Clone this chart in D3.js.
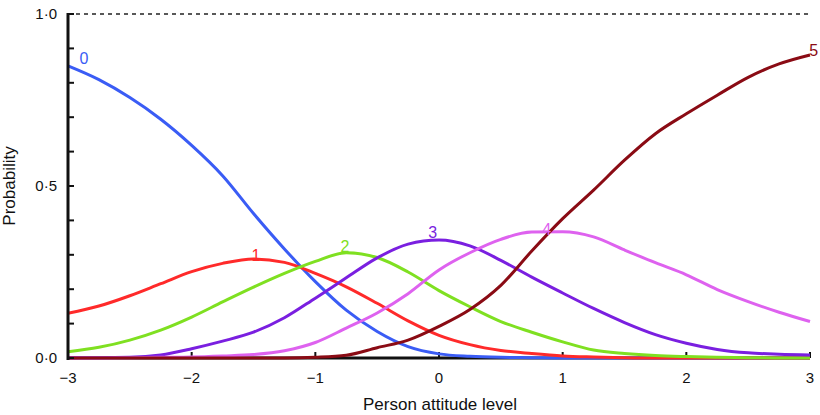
<!DOCTYPE html>
<html>
<head>
<meta charset="utf-8">
<script src="https://cdn.jsdelivr.net/npm/d3@7/dist/d3.min.js"></script>
<style>
  html, body { margin: 0; padding: 0; background: #fff; }
  svg { display: block; }
  text { font-family: "Liberation Sans", Arial, Helvetica, sans-serif; }
</style>
</head>
<body>
<svg id="chart" width="820" height="415"></svg>
<script>
// ---- data ----
const theta = [-3, -2.75, -2.5, -2.25, -2, -1.75, -1.5, -1.25, -1, -0.75, -0.5, -0.25,
               0, 0.25, 0.5, 0.75, 1, 1.25, 1.5, 1.75, 2, 2.25, 2.5, 2.75, 3];
const cat0 = [0.849, 0.809, 0.757, 0.694, 0.618, 0.530, 0.420, 0.317, 0.222, 0.139, 0.077, 0.033,
              0.012, 0.005, 0.002, 0.001, 0, 0, 0, 0, 0, 0, 0, 0, 0];
const cat1 = [0.130, 0.151, 0.181, 0.216, 0.251, 0.275, 0.288, 0.278, 0.246, 0.207, 0.159, 0.108,
              0.066, 0.039, 0.022, 0.013, 0.006, 0.003, 0.001, 0, 0, 0, 0, 0, 0];
const cat2 = [0.018, 0.031, 0.052, 0.081, 0.119, 0.163, 0.206, 0.246, 0.281, 0.306, 0.292, 0.250,
              0.196, 0.149, 0.106, 0.075, 0.047, 0.023, 0.013, 0.007, 0.004, 0.002, 0.001, 0, 0];
const cat3 = [0.001, 0.001, 0.002, 0.009, 0.027, 0.049, 0.075, 0.117, 0.174, 0.233, 0.291, 0.331,
              0.343, 0.326, 0.284, 0.235, 0.189, 0.144, 0.103, 0.068, 0.043, 0.025, 0.015, 0.011, 0.009];
const cat4 = [0, 0, 0.001, 0.002, 0.003, 0.006, 0.010, 0.021, 0.045, 0.087, 0.131, 0.187,
              0.256, 0.306, 0.345, 0.366, 0.367, 0.352, 0.314, 0.277, 0.242, 0.199, 0.164, 0.133, 0.106];
const cat5 = [0, 0, 0, 0, 0, 0, 0, 0, 0.002, 0.008, 0.030, 0.052,
              0.092, 0.141, 0.211, 0.311, 0.405, 0.488, 0.575, 0.652, 0.710, 0.764, 0.816, 0.855, 0.881];
const categories = ["0", "1", "2", "3", "4", "5"];
const seriesValues = [cat0, cat1, cat2, cat3, cat4, cat5];
const colors = ["#3a5cf5", "#ff2a2a", "#7fe021", "#7a1fe0", "#de62ef", "#8a0b14"];
// label anchor points (data space)
const labelX = [-2.87, -1.48, -0.76, -0.05, 0.87, 3.03];
const labelY = [0.872, 0.300, 0.325, 0.365, 0.375, 0.895];
const xTicks = [-3, -2, -1, 0, 1, 2, 3];
const yLabelTicks = [0, 0.5, 1];
const yMinorTicks = [0, 0.1, 0.2, 0.3, 0.4, 0.5, 0.6, 0.7, 0.8, 0.9, 1.0];
const xTitle = "Person attitude level";
const yTitle = "Probability";

// ---- chart ----
const svg = d3.select("#chart");
const x = d3.scaleLinear().domain([-3, 3]).range([68, 810]);
const y = d3.scaleLinear().domain([0, 1]).range([358, 14]);

const fmt = v => d3.format(".1f")(v).replace(".", "\u00B7").replace("-", "\u2212");
const fmtX = v => String(v).replace("-", "\u2212");

// dashed line at 1.0
svg.append("line")
  .attr("x1", x(-3)).attr("x2", x(3))
  .attr("y1", y(1)).attr("y2", y(1))
  .attr("stroke", "#222").attr("stroke-width", 1.6)
  .attr("stroke-dasharray", "4,4");

// x axis line
svg.append("line")
  .attr("x1", x(-3)).attr("x2", x(3))
  .attr("y1", y(0)).attr("y2", y(0))
  .attr("stroke", "#111").attr("stroke-width", 3.2);

// x ticks (inward)
svg.append("g").selectAll("line").data(xTicks).join("line")
  .attr("x1", d => x(d)).attr("x2", d => x(d))
  .attr("y1", y(0)).attr("y2", y(0) - 6)
  .attr("stroke", "#111").attr("stroke-width", 2);

// x tick labels
svg.append("g").selectAll("text").data(xTicks).join("text")
  .attr("x", d => x(d)).attr("y", 383)
  .attr("text-anchor", "middle")
  .attr("font-size", 15).attr("fill", "#111")
  .text(fmtX);

// curves
const line = d3.line()
  .x((d, i) => x(theta[i]))
  .y(d => y(d))
  .curve(d3.curveMonotoneX);

svg.append("g").selectAll("path").data(seriesValues).join("path")
  .attr("d", d => line(d))
  .attr("fill", "none")
  .attr("stroke", (d, i) => colors[i])
  .attr("stroke-width", 3)
  .attr("stroke-linejoin", "round");

// y axis line
svg.append("line")
  .attr("x1", x(-3)).attr("x2", x(-3))
  .attr("y1", y(1) - 1).attr("y2", y(0) + 2)
  .attr("stroke", "#111").attr("stroke-width", 3);

// y ticks (inward)
svg.append("g").selectAll("line").data(yMinorTicks).join("line")
  .attr("x1", x(-3)).attr("x2", x(-3) + 6)
  .attr("y1", d => y(d)).attr("y2", d => y(d))
  .attr("stroke", "#111").attr("stroke-width", 2);

// y tick labels
svg.append("g").selectAll("text").data(yLabelTicks).join("text")
  .attr("x", 57).attr("y", d => y(d) + 5)
  .attr("text-anchor", "end")
  .attr("font-size", 15).attr("fill", "#111")
  .text(fmt);

// curve labels
svg.append("g").selectAll("text").data(categories).join("text")
  .attr("x", (d, i) => x(labelX[i]))
  .attr("y", (d, i) => y(labelY[i]) + 6)
  .attr("text-anchor", "middle")
  .attr("font-size", 16)
  .attr("fill", (d, i) => colors[i])
  .text(d => d);

// axis titles
svg.append("text")
  .attr("x", 440).attr("y", 410)
  .attr("text-anchor", "middle")
  .attr("font-size", 17).attr("fill", "#111")
  .text(xTitle);

svg.append("text")
  .attr("transform", "translate(15,186) rotate(-90)")
  .attr("text-anchor", "middle")
  .attr("font-size", 17).attr("fill", "#111")
  .text(yTitle);
</script>
</body>
</html>
